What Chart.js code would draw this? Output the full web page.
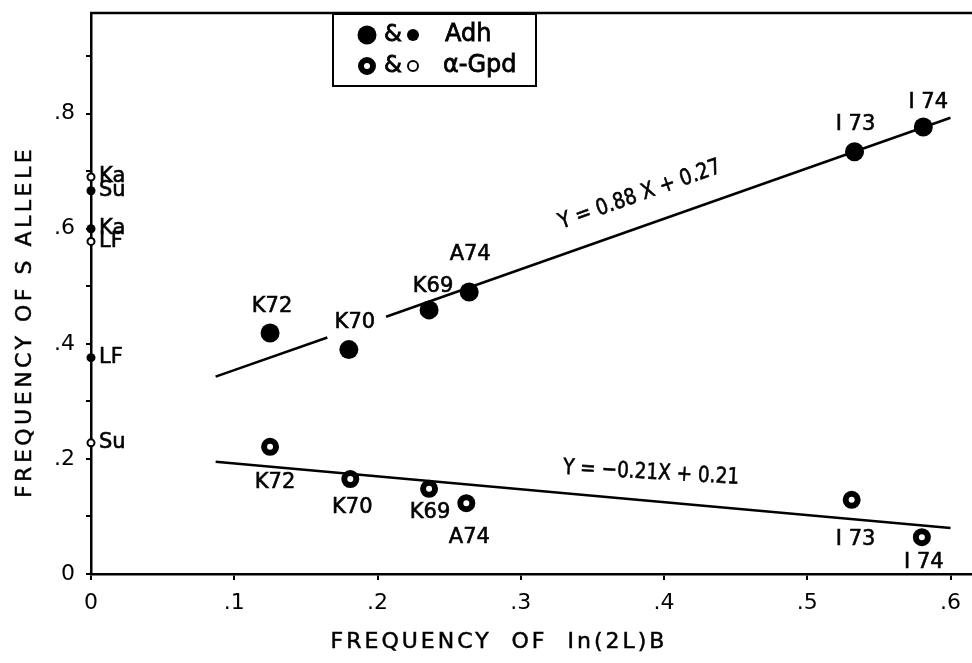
<!DOCTYPE html>
<html>
<head>
<meta charset="utf-8">
<script src="https://cdn.jsdelivr.net/npm/chart.js@4.4.1/dist/chart.umd.min.js"></script>
<style>
body { margin: 0; background: #fff; }
</style>
</head>
<body>
<canvas id="myChart" width="972" height="663"></canvas>
<script>
// populations
const popLabels = ['K72', 'K70', 'K69', 'A74', 'I 73', 'I 74'];
const adhX = [0.125, 0.180, 0.236, 0.264, 0.533, 0.581];
const adhY = [0.419, 0.390, 0.459, 0.490, 0.734, 0.777];
const gpdX = [0.125, 0.181, 0.236, 0.262, 0.531, 0.580];
const gpdY = [0.221, 0.165, 0.148, 0.123, 0.129, 0.064];

// populations without In(2L)B, plotted on the y axis
const axisAdhLabels = ['Su', 'Ka', 'LF'];
const axisAdhY = [0.666, 0.600, 0.376];
const axisGpdLabels = ['Ka', 'LF', 'Su'];
const axisGpdY = [0.690, 0.578, 0.228];

// fitted lines (upper one is broken around the K70 label)
const adhFitX = [0.087, 0.165, 0.206, 0.600];
const adhFitY = [0.343, 0.411, 0.447, 0.793];
const gpdFitX = [0.087, 0.600];
const gpdFitY = [0.195, 0.080];

const xTicks = [0, 0.1, 0.2, 0.3, 0.4, 0.5, 0.6];
const xTickLabels = ['0', '.1', '.2', '.3', '.4', '.5', '.6'];
const yTicks = [0, 0.1, 0.2, 0.3, 0.4, 0.5, 0.6, 0.7, 0.8, 0.9];
const yTickLabels = ['0', '', '.2', '', '.4', '', '.6', '', '.8', ''];

// label placement (pixel offsets from each point)
const adhLabelOffsets = [[2, -26], [6, -27], [4, -23], [1, -38], [1, -27], [5, -24]];
const gpdLabelOffsets = [[5, 36], [2, 28], [1, 24], [3, 34], [4, 40], [2, 25]];

const FONT = '"DejaVu Sans", sans-serif';

function pts(xs, ys) {
    return xs.map(function (x, i) { return {x: x, y: ys[i]}; });
}

// slightly heavier text, like the original lettering
function text(ctx, s, x, y) {
    ctx.fillText(s, x, y);
    ctx.strokeText(s, x, y);
}

const annotations = {
    id: 'annotations',
    afterDraw: function (chart) {
        const ctx = chart.ctx;
        const xs = chart.scales.x, ys = chart.scales.y;
        const area = chart.chartArea;
        ctx.save();
        ctx.fillStyle = '#000';
        ctx.strokeStyle = '#000';

        // top frame line
        ctx.lineWidth = 2.5;
        ctx.beginPath();
        ctx.moveTo(area.left - 1, area.top);
        ctx.lineTo(chart.width, area.top);
        ctx.stroke();

        ctx.lineWidth = 0.6;
        // point labels
        ctx.font = '21px ' + FONT;
        ctx.textAlign = 'center';
        ctx.textBaseline = 'middle';
        popLabels.forEach(function (lab, i) {
            text(ctx, lab, xs.getPixelForValue(adhX[i]) + adhLabelOffsets[i][0], ys.getPixelForValue(adhY[i]) + adhLabelOffsets[i][1]);
            text(ctx, lab, xs.getPixelForValue(gpdX[i]) + gpdLabelOffsets[i][0], ys.getPixelForValue(gpdY[i]) + gpdLabelOffsets[i][1]);
        });
        ctx.textAlign = 'left';
        const x0 = xs.getPixelForValue(0);
        axisAdhLabels.forEach(function (lab, i) {
            text(ctx, lab, x0 + 8, ys.getPixelForValue(axisAdhY[i]));
        });
        axisGpdLabels.forEach(function (lab, i) {
            text(ctx, lab, x0 + 8, ys.getPixelForValue(axisGpdY[i]));
        });

        // regression equations (narrow lettering)
        ctx.font = '22px ' + FONT;
        ctx.textAlign = 'center';
        ctx.save();
        ctx.translate(640, 195);
        ctx.rotate(-19.5 * Math.PI / 180);
        ctx.scale(0.86, 1);
        text(ctx, 'Y = 0.88 X + 0.27', 0, 0);
        ctx.restore();
        ctx.save();
        ctx.translate(651, 473);
        ctx.rotate(3.3 * Math.PI / 180);
        ctx.scale(0.84, 1);
        text(ctx, 'Y = \u22120.21X + 0.21', 0, 0);
        ctx.restore();

        // legend box
        ctx.lineWidth = 2;
        ctx.strokeRect(333, 14, 203, 72);
        ctx.beginPath(); ctx.arc(367, 35, 9.5, 0, 2 * Math.PI); ctx.fill();
        ctx.beginPath(); ctx.arc(413, 35, 6, 0, 2 * Math.PI); ctx.fill();
        ctx.lineWidth = 6;
        ctx.beginPath(); ctx.arc(367, 66, 6, 0, 2 * Math.PI); ctx.stroke();
        ctx.lineWidth = 2;
        ctx.beginPath(); ctx.arc(413, 66, 5, 0, 2 * Math.PI); ctx.stroke();
        ctx.lineWidth = 0.8;
        ctx.font = '23px ' + FONT;
        text(ctx, '&', 393, 35);
        text(ctx, '&', 393, 66);
        ctx.textAlign = 'left';
        ctx.font = '24px ' + FONT;
        text(ctx, 'Adh', 445, 35);
        text(ctx, '\u03b1-Gpd', 443, 66);

        // axis titles
        ctx.lineWidth = 0.5;
        ctx.font = '22px ' + FONT;
        ctx.textAlign = 'center';
        ctx.letterSpacing = '3px';
        text(ctx, 'FREQUENCY  OF  In(2L)B', 499, 642);
        ctx.save();
        ctx.translate(25, 322);
        ctx.rotate(-Math.PI / 2);
        ctx.letterSpacing = '3.5px';
        text(ctx, 'FREQUENCY OF S ALLELE', 0, 0);
        ctx.restore();
        ctx.restore();
    }
};

const ctx = document.getElementById('myChart');
myChart = new Chart(ctx, {
    type: 'scatter',
    data: {
        datasets: [
            {
                label: 'Adh',
                data: pts(adhX, adhY),
                pointRadius: 9.5,
                backgroundColor: '#000',
                borderWidth: 0
            },
            {
                label: 'a-Gpd',
                data: pts(gpdX, gpdY),
                pointRadius: 6,
                backgroundColor: '#fff',
                borderColor: '#000',
                borderWidth: 6
            },
            {
                label: 'Adh (no inversion)',
                data: axisAdhY.map(function (y) { return {x: 0, y: y}; }),
                pointRadius: 4.5,
                backgroundColor: '#000',
                borderWidth: 0,
                clip: false
            },
            {
                label: 'a-Gpd (no inversion)',
                data: axisGpdY.map(function (y) { return {x: 0, y: y}; }),
                pointRadius: 3.5,
                backgroundColor: '#fff',
                borderColor: '#000',
                borderWidth: 2,
                clip: false
            },
            {
                label: 'Adh fit',
                data: pts(adhFitX, adhFitY),
                showLine: true,
                pointRadius: 0,
                borderColor: '#000',
                borderWidth: 2.5,
                segment: {
                    borderColor: function (c) { return c.p0DataIndex === 1 ? 'rgba(0,0,0,0)' : '#000'; }
                }
            },
            {
                label: 'a-Gpd fit',
                data: pts(gpdFitX, gpdFitY),
                showLine: true,
                pointRadius: 0,
                borderColor: '#000',
                borderWidth: 2.5
            }
        ]
    },
    options: {
        responsive: false,
        animation: false,
        events: [],
        layout: { autoPadding: false, padding: { top: 13, left: 0, right: 0, bottom: 0 } },
        plugins: {
            legend: { display: false },
            tooltip: { enabled: false }
        },
        scales: {
            x: {
                type: 'linear',
                min: 0,
                max: 0.615,
                afterBuildTicks: function (s) { s.ticks = xTicks.map(function (v) { return {value: v}; }); },
                afterFit: function (s) { s.height = 89; s.paddingLeft = 0; s.paddingRight = 0; },
                border: { display: true, color: '#000', width: 2.5 },
                grid: { drawOnChartArea: false, drawTicks: true, tickLength: 6, color: '#000', lineWidth: 2 },
                ticks: {
                    autoSkip: false,
                    maxRotation: 0,
                    padding: 10,
                    color: '#000',
                    font: { family: FONT, size: 22 },
                    callback: function (v, i) { return xTickLabels[i]; }
                }
            },
            y: {
                type: 'linear',
                min: 0,
                max: 0.975,
                afterBuildTicks: function (s) { s.ticks = yTicks.map(function (v) { return {value: v}; }); },
                afterFit: function (s) { s.width = 91; s.paddingTop = 0; s.paddingBottom = 0; },
                border: { display: true, color: '#000', width: 2.5 },
                grid: { drawOnChartArea: false, drawTicks: true, tickLength: 5, color: '#000', lineWidth: 2 },
                ticks: {
                    autoSkip: false,
                    padding: 11,
                    color: '#000',
                    font: { family: FONT, size: 22 },
                    callback: function (v, i) { return yTickLabels[i]; }
                }
            }
        }
    },
    plugins: [annotations]
});
</script>
</body>
</html>
